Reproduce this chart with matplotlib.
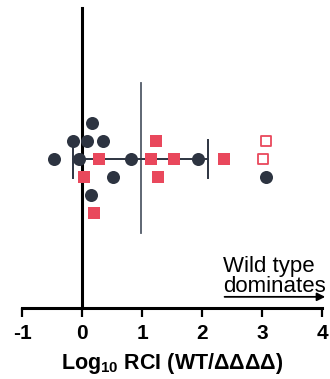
import matplotlib
matplotlib.use("Agg")
import matplotlib.pyplot as plt
import numpy as np

plt.rcParams['font.family'] = ['Liberation Sans', 'DejaVu Sans']
plt.rcParams['mathtext.fontset'] = 'custom'
plt.rcParams['mathtext.rm'] = 'Liberation Sans'
plt.rcParams['mathtext.bf'] = 'Liberation Sans:bold'

# log10 RCI values (x) and jitter rows (y)
dark_x = [0.16, -0.155, 0.08, 0.355, -0.46, -0.05, 0.82, 1.93, 0.52, 3.07, 0.155]
dark_y = [2, 1, 1, 1, 0, 0, 0, 0, -1, -1, -2]
red_x = [1.23, 0.28, 1.145, 1.54, 2.37, 0.03, 1.27, 0.205]
red_y = [1, 0, 0, 0, 0, -1, -1, -3]
open_x = [3.06, 3.02]
open_y = [1, 0]

mean_val = 0.98
sd_low, sd_high = -0.155, 2.1

dark = '#2d3441'
red = '#e9485c'

fig = plt.figure(figsize=(3.3, 3.79), dpi=100)
ax = fig.add_axes([22 / 330, 71 / 379, 300 / 330, 300 / 379])

# mean line and spread bar
ax.plot([mean_val, mean_val], [-4.15, 4.2], color='#525a68', lw=1.3, zorder=1)
ax.plot([sd_low, sd_high], [0, 0], color=dark, lw=1.4, zorder=1)
for xe in (sd_low, sd_high):
    ax.plot([xe, xe], [-1.05, 1.05], color=dark, lw=1.4, zorder=1)

ax.scatter(dark_x, dark_y, s=88, color=dark, marker='o', zorder=3, linewidths=0)
ax.scatter(red_x, red_y, s=78, color=red, marker='s', zorder=3, linewidths=0)
ax.scatter(open_x, open_y, s=60, facecolors='white', edgecolors=red,
           marker='s', zorder=3, linewidths=1.3)

ax.set_xlim(-1, 4)
ax.set_ylim(-8.3, 8.37)

ax.spines['top'].set_visible(False)
ax.spines['right'].set_visible(False)
ax.spines['left'].set_position(('data', 0))
ax.spines['left'].set_linewidth(2.2)
ax.spines['left'].set_color('black')
ax.spines['bottom'].set_linewidth(2.2)
ax.set_yticks([])
ax.set_xticks([-1, 0, 1, 2, 3, 4])
ax.set_xticklabels(['-1', '0', '1', '2', '3', '4'], fontsize=15, fontweight='bold')
ax.tick_params(axis='x', direction='out', length=6.5, width=1.6, pad=5)
ax.set_xlabel('Log$_{\\mathbf{10}}$ RCI (WT/ΔΔΔΔ)', fontsize=15.5,
              fontweight='bold', labelpad=6)

# "Wild type dominates" arrow
ax.annotate('', xy=(4.1, -7.68), xytext=(2.33, -7.68),
            arrowprops=dict(arrowstyle='-|>', color='black', lw=1.3,
                            mutation_scale=12),
            annotation_clip=False)
ax.text(2.35, -7.68, 'Wild type\ndominates', fontsize=16, ha='left', va='bottom',
        linespacing=0.95)

fig.savefig('out.png', dpi=100)
